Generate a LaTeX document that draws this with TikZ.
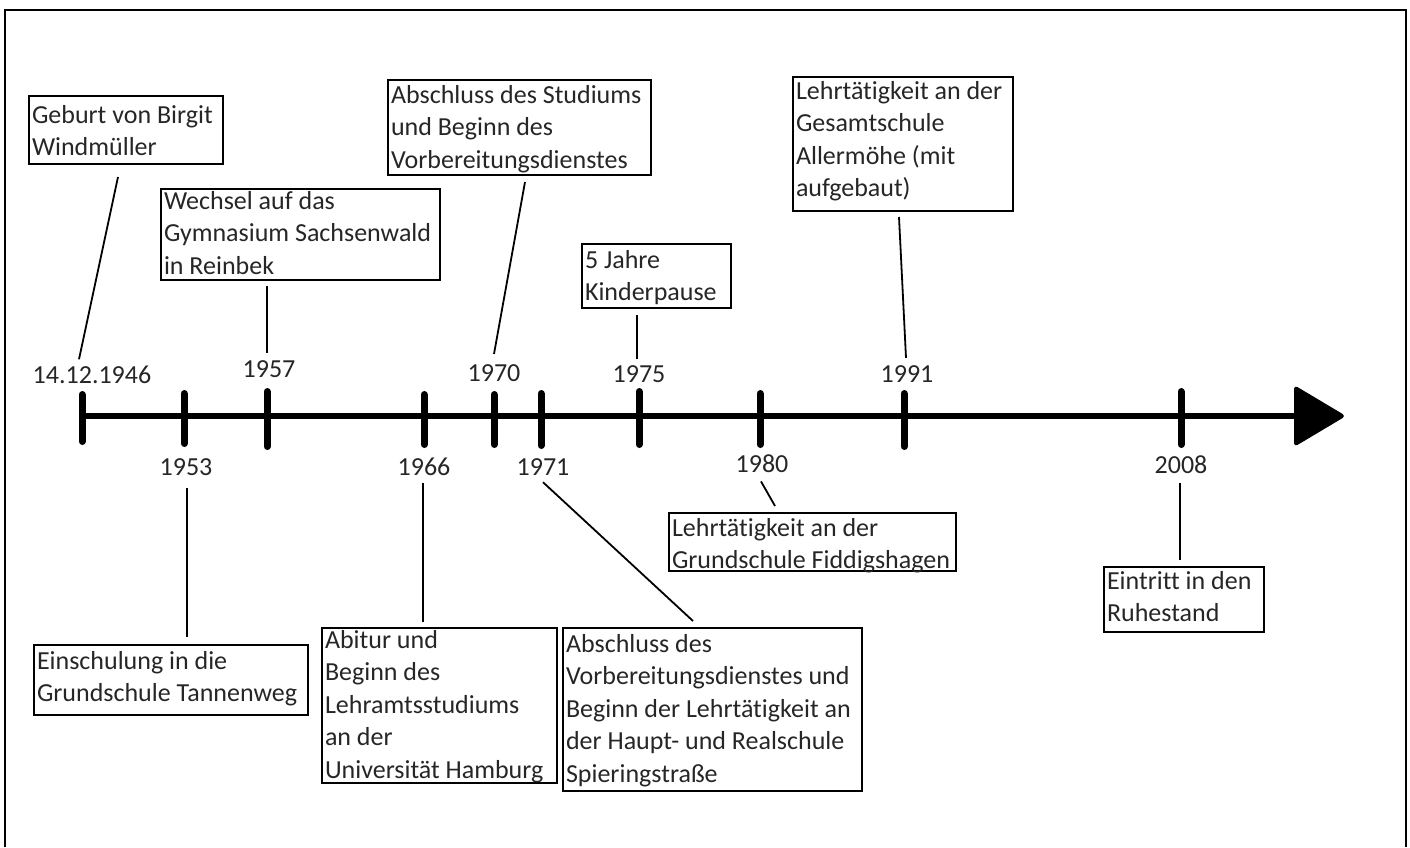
\documentclass[tikz,border=0pt]{standalone}
\usepackage{fontspec}
\setmainfont{Carlito}[Ligatures=NoCommon,RawFeature={-liga;-clig}]
\usetikzlibrary{calc}
\newcommand{\fs}{\fontsize{26}{32.5}\selectfont}
\newcommand{\bt}[4]{\parbox[t][#2][t]{#1}{\raggedright\leftskip=3pt\parindent=0pt\hfuzz=200pt\hbadness=10000\vbadness=10000\vfuzz=200pt\baselineskip=32.5pt\rule{0pt}{#3}#4}}
\begin{document}
\begin{tikzpicture}[x=1pt,y=-1pt,
  evbox/.style={draw=black, line width=2pt, inner sep=0pt, anchor=north west, font=\fs, text=black!85},
  lbl/.style={inner sep=0pt, anchor=base, font=\fs, text=black!85},
  conn/.style={draw=black, line width=1.8pt},
  tick/.style={line width=7pt, line cap=round}]
\useasboundingbox (0,0) rectangle (1410,847);
% frame
\draw[line width=2.5pt] (5,847) -- (5,10) -- (1406,10) -- (1406,847);
% axis
\draw[line width=6pt] (80,416) -- (1300,416);
\fill[rounded corners=4pt] (1294,385) -- (1346,416) -- (1294,447) -- cycle;
\foreach \x/\a/\b in {82/394.5/441.5, 184/393.5/443.5, 267/391.5/446.5, 424/394.5/444.5, 494/394.5/444.5, 541/393.5/445.5, 639/391.5/444.5, 760/393.5/444.5, 904/393.5/446.5, 1181/391.5/444.5}
  \draw[tick] (\x,\a) -- (\x,\b);
% year labels
\node[lbl] (l1946) at (92,383) {14.12.1946};
\node[lbl] (l1957) at (269,377) {1957};
\node[lbl] (l1970) at (494,381) {1970};
\node[lbl] (l1975) at (639,382) {1975};
\node[lbl] (l1991) at (907,382) {1991};
\node[lbl] (l1953) at (186,475) {1953};
\node[lbl] (l1966) at (424,475) {1966};
\node[lbl] (l1971) at (543,475) {1971};
\node[lbl] (l1980) at (762,472) {1980};
\node[lbl] (l2008) at (1181,473) {2008};
% boxes
\node[evbox] (b1) at (28,95) {\bt{194pt}{68pt}{27pt}{\mbox{Geburt von Birgit}\\\mbox{Windmüller}}};
\node[evbox] (b2) at (160,188) {\bt{279pt}{91pt}{20pt}{\mbox{Wechsel auf das}\\\mbox{Gymnasium Sachsenwald}\\\mbox{in Reinbek}}};
\node[evbox] (b3) at (387,79) {\bt{263pt}{95pt}{23pt}{\mbox{Abschluss des Studiums}\\\mbox{und Beginn des}\\\mbox{Vorbereitungsdienstes}}};
\node[evbox] (b4) at (581,243) {\bt{149pt}{64pt}{24pt}{\mbox{5 Jahre}\\\mbox{Kinderpause}}};
\node[evbox] (b5) at (792,76) {\bt{220pt}{134pt}{22pt}{\mbox{Lehrtätigkeit an der}\\\mbox{Gesamtschule}\\\mbox{Allermöhe (mit}\\\mbox{aufgebaut)}}};
\node[evbox] (b6) at (33,644) {\bt{274pt}{70pt}{24pt}{\mbox{Einschulung in die}\\\mbox{Grundschule Tannenweg}}};
\node[evbox] (b7) at (321,627) {\bt{235pt}{155pt}{20pt}{\mbox{Abitur und}\\\mbox{Beginn des}\\\mbox{Lehramtsstudiums}\\\mbox{an der}\\\mbox{Universität Hamburg}}};
\node[evbox] (b8) at (562,627) {\bt{299pt}{163pt}{24pt}{\mbox{Abschluss des}\\\mbox{Vorbereitungsdienstes und}\\\mbox{Beginn der Lehrtätigkeit an}\\\mbox{der Haupt- und Realschule}\\\mbox{Spieringstraße}}};
\node[evbox] (b9) at (668,512) {\bt{287pt}{58pt}{23pt}{\mbox{Lehrtätigkeit an der}\\\mbox{Grundschule Fiddigshagen}}};
\node[evbox] (b10) at (1103,566) {\bt{160pt}{65pt}{22pt}{\mbox{Eintritt in den}\\\mbox{Ruhestand}}};
% connectors (box -> year label)
\draw[conn] ($(b1.south west)+(90,12)$) -- ($(l1946.north)+(-13,-6)$);
\draw[conn] ($(b2.south west)+(107,5)$) -- ($(l1957.north)+(-2,-7)$);
\draw[conn] ($(b3.south west)+(138,6)$) -- ($(l1970.north)+(0,-10)$);
\draw[conn] ($(b4.south west)+(56,6)$) -- ($(l1975.north)+(-2,-6)$);
\draw[conn] ($(b5.south west)+(107,5)$) -- ($(l1991.north)+(-1,-7)$);
\draw[conn] ($(l1953.south)+(1,13)$) -- ($(b6.north west)+(154,-7)$);
\draw[conn] ($(l1966.south)+(-1,8)$) -- ($(b7.north west)+(102,-5)$);
\draw[conn] ($(l1971.south)+(0,7)$) -- ($(b8.north west)+(131,-6)$);
\draw[conn] ($(l1980.south)+(-1,9)$) -- ($(b9.north west)+(107,-6)$);
\draw[conn] ($(l2008.south)+(-1,10)$) -- ($(b10.north west)+(77,-6)$);
\end{tikzpicture}
\end{document}
